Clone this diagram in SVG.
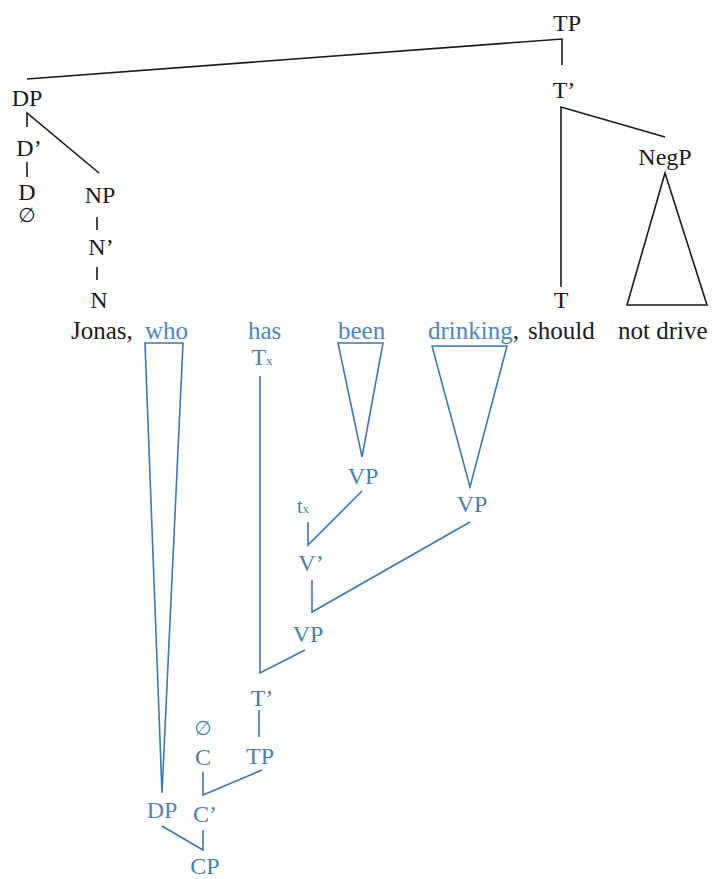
<svg xmlns="http://www.w3.org/2000/svg" width="716" height="879" viewBox="0 0 716 879" font-family="'Liberation Serif', 'Times New Roman', serif">
<style>
text{font-family:"Liberation Serif","Times New Roman","DejaVu Serif",serif;font-size:24px;text-anchor:middle}
.w{font-size:25px;text-anchor:start}
.k{fill:#1a1a1a}
.b{fill:#4a86bf}
.bl{fill:#4b7fa6}
.e{font-family:"DejaVu Sans",sans-serif;font-size:20px}
.lk{stroke:#1a1a1a;stroke-width:1.6;fill:none}
.lb{stroke:#3b78b4;stroke-width:1.6;fill:none}
.s{font-size:13px}
</style>
<rect width="716" height="879" fill="#ffffff"/>
<g id="connectors">
<path class="lk" d="M27,79 L562,39 L562,65"/>
<path class="lk" d="M561,287 L561,107 L665,137"/>
<path class="lk" d="M665,173 L627,305 L707,305 Z"/>
<path class="lk" d="M27,127 L27,113 L99,173"/>
<path class="lk" d="M27,162 L27,177"/>
<path class="lk" d="M97,217 L97,230"/>
<path class="lk" d="M97,267 L97,280"/>
<path class="lb" d="M145,343 L183,343 L162,793 Z"/>
<path class="lb" d="M338,343 L383,343 L362,457 Z"/>
<path class="lb" d="M432,346 L507,346 L470,487 Z"/>
<path class="lb" d="M260,376 L260,673 L305,650"/>
<path class="lb" d="M362,491 L308,545 L308,522"/>
<path class="lb" d="M312,580 L312,612 L470,522"/>
<path class="lb" d="M259,710 L259,737"/>
<path class="lb" d="M262,770 L203,795 L203,772"/>
<path class="lb" d="M162,826 L203,850 L203,830"/>
</g>
<g id="n-TP"><text class="k" x="567" y="31">TP</text></g>
<g id="n-Tbar"><text class="k" x="564" y="98">T’</text></g>
<g id="n-NegP"><text class="k" x="665" y="165">NegP</text></g>
<g id="n-T"><text class="k" x="561" y="308">T</text></g>
<g id="n-DP"><text class="k" x="27" y="106">DP</text></g>
<g id="n-Dbar"><text class="k" x="29" y="156">D’</text></g>
<g id="n-D"><text class="k" x="27" y="200">D</text></g>
<g id="n-Dnull"><text class="k e" x="27" y="222">∅</text></g>
<g id="n-NP"><text class="k" x="100" y="203">NP</text></g>
<g id="n-Nbar"><text class="k" x="101" y="255">N’</text></g>
<g id="n-N"><text class="k" x="99" y="308">N</text></g>
<g id="words">
<text class="w k" x="71" y="339">Jonas,</text>
<text class="w b" x="145" y="339">who</text>
<text class="w b" x="248" y="339">has</text>
<text class="w b" x="338" y="339">been</text>
<text class="w" x="428" y="339"><tspan class="b">drinking</tspan><tspan class="k">,</tspan></text>
<text class="w k" x="528" y="339">should</text>
<text class="w k" x="618" y="339">not drive</text>
</g>
<g id="n-Tx"><text class="bl" x="262" y="365">T<tspan class="s">x</tspan></text></g>
<g id="n-VP1"><text class="bl" x="363" y="484">VP</text></g>
<g id="n-tx"><text class="bl" x="303" y="513" style="font-size:20px">t<tspan class="s">x</tspan></text></g>
<g id="n-Vbar"><text class="bl" x="311" y="571">V’</text></g>
<g id="n-VP2"><text class="bl" x="472" y="512">VP</text></g>
<g id="n-VP3"><text class="bl" x="308" y="642">VP</text></g>
<g id="n-Tbar2"><text class="bl" x="262" y="706">T’</text></g>
<g id="n-TP2"><text class="bl" x="260" y="764">TP</text></g>
<g id="n-Cnull"><text class="bl e" x="203" y="735">∅</text></g>
<g id="n-C"><text class="bl" x="203" y="765">C</text></g>
<g id="n-Cbar"><text class="bl" x="205" y="822">C’</text></g>
<g id="n-DP2"><text class="b" x="162" y="818">DP</text></g>
<g id="n-CP"><text class="bl" x="205" y="874">CP</text></g>
</svg>
